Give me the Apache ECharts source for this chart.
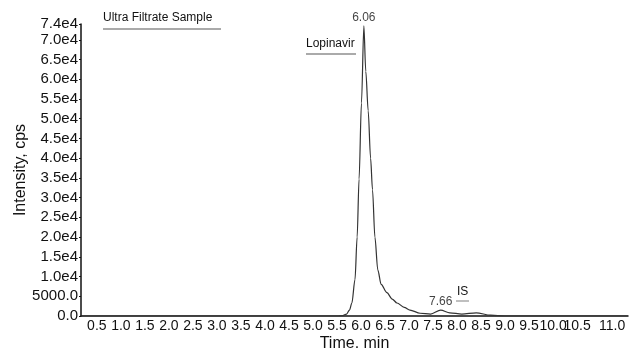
<!DOCTYPE html>
<html><head><meta charset="utf-8">
<script src="https://cdn.jsdelivr.net/npm/echarts@6/dist/echarts.min.js"></script>
<style>html,body{margin:0;padding:0;background:#fff}#c{width:629px;height:350px}</style>
</head><body><div id="c"></div>
<script>
const times = [0.17, 1.0, 2.0, 3.0, 4.0, 5.0, 5.5, 5.62, 5.70, 5.76, 5.81, 5.875, 5.92, 5.96, 6.01, 6.06, 6.10, 6.15, 6.20, 6.24, 6.29, 6.35, 6.42, 6.54, 6.65, 6.75, 6.9, 7.02, 7.23, 7.45, 7.66, 7.85, 8.1, 8.4, 8.7, 9.0, 10.0, 11.0, 11.56];
const intensity = [0, 0, 0, 0, 0, 0, 0, 100, 500, 1500, 3300, 9200, 20000, 34700, 54000, 73500, 62000, 52000, 40000, 32000, 20000, 11700, 8000, 5900, 4300, 3300, 2200, 1500, 700, 500, 1500, 800, 500, 800, 200, 0, 0, 0, 0];
const yTicks = [0, 5000, 10000, 15000, 20000, 25000, 30000, 35000, 40000, 45000, 50000, 55000, 60000, 65000, 70000, 74000];
const xTicks = [0.5, 1.0, 1.5, 2.0, 2.5, 3.0, 3.5, 4.0, 4.5, 5.0, 5.5, 6.0, 6.5, 7.0, 7.5, 8.0, 8.5, 9.0, 9.5, 10.0, 10.5, 11.0];
const peaks = [[6.06, 73500, '6.06'], [7.66, 1500, '7.66']];

function yFmt(v) {
  if (v === 0) return '0.0';
  if (v < 10000) return v.toFixed(1);
  return (v / 10000).toFixed(1) + 'e4';
}
const font = 'Liberation Sans, Arial, sans-serif';
const chart = echarts.init(document.getElementById('c'));
chart.setOption({
  animation: false,
  grid: { left: 81, right: 1, top: 24, bottom: 34, outerBoundsMode: 'none', containLabel: false },
  xAxis: {
    type: 'value', min: 0.17, max: 11.56,
    axisLine: { lineStyle: { color: '#111', width: 1.5 } },
    axisTick: { show: false },
    splitLine: { show: false },
    axisLabel: {
      customValues: xTicks, color: '#111', fontFamily: font, fontSize: 14, margin: 3,
      formatter: v => v === 11 ? '{r|11.0}' : v.toFixed(1),
      rich: { r: { fontFamily: font, fontSize: 14, color: '#111', padding: [0, 0, 0, 22] } }
    },
    name: 'Time. min', nameLocation: 'middle', nameGap: 20, nameMoveOverlap: false,
    nameTextStyle: { fontFamily: font, fontSize: 16, color: '#111', verticalAlign: 'top' }
  },
  yAxis: {
    type: 'value', min: 0, max: 74000,
    axisLine: { show: true, lineStyle: { color: '#111', width: 1.5 } },
    axisTick: { show: true, customValues: yTicks, length: 2, lineStyle: { color: '#111' } },
    splitLine: { show: false },
    axisLabel: { customValues: yTicks, color: '#111', fontFamily: font, fontSize: 15, margin: 3, formatter: yFmt },
    name: 'Intensity, cps', nameLocation: 'middle', nameGap: 52, nameRotate: 90, nameMoveOverlap: false,
    nameTextStyle: { fontFamily: font, fontSize: 16, color: '#111' }
  },
  series: [{
    type: 'line', data: times.map((t, i) => [t, intensity[i]]),
    showSymbol: false, smooth: 0.3, smoothMonotone: 'x',
    lineStyle: { color: '#333', width: 1.2 }
  }, {
    type: 'scatter', symbolSize: 0, silent: true,
    data: peaks.map(p => ({ value: [p[0], p[1]], name: p[2] })),
    label: { show: true, position: 'top', distance: 2, formatter: p => p.name, fontFamily: font, fontSize: 12, color: '#111' }
  }],
  graphic: [
    { type: 'text', left: 103, top: 12, style: { text: 'Ultra Filtrate Sample', font: '12px ' + font, fill: '#111' } },
    { type: 'line', shape: { x1: 103, y1: 29, x2: 221, y2: 29 }, style: { stroke: '#aaa', lineWidth: 2 } },
    { type: 'text', left: 306, top: 38, style: { text: 'Lopinavir', font: '12px ' + font, fill: '#111' } },
    { type: 'line', shape: { x1: 306, y1: 54, x2: 356, y2: 54 }, style: { stroke: '#aaa', lineWidth: 2 } },
    { type: 'text', left: 457, top: 286, style: { text: 'IS', font: '12px ' + font, fill: '#111' } },
    { type: 'line', shape: { x1: 456, y1: 301, x2: 469, y2: 301 }, style: { stroke: '#aaa', lineWidth: 1.5 } }
  ]
});
</script></body></html>
